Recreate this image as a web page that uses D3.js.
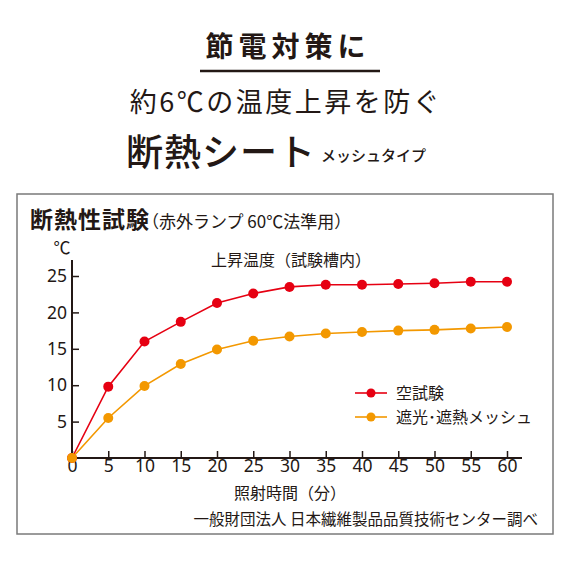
<!DOCTYPE html>
<html>
<head>
<meta charset="utf-8">
<script src="https://cdn.jsdelivr.net/npm/d3@7"></script>
<style>
  html, body { margin: 0; padding: 0; background: #fff; }
  text { font-family: "Noto Sans CJK JP", "Noto Sans", sans-serif; fill: #231815; }
</style>
</head>
<body>
<div id="diagram"></div>
<script>
!(function () {
  'use strict'
  // - - - - - - - - - -
  // data
  let
    minutes = [0, 5, 10, 15, 20, 25, 30, 35, 40, 45, 50, 55, 60],
    blank = [0, 9.8, 16, 18.7, 21.3, 22.6, 23.5, 23.8, 23.8, 23.9, 24.0, 24.2, 24.2],
    mesh = [0, 5.5, 9.9, 12.9, 14.9, 16.1, 16.7, 17.1, 17.3, 17.5, 17.6, 17.8, 18.0],
    seriesNames = ['空試験', '遮光･遮熱メッシュ'],
    xTicks = [0, 5, 10, 15, 20, 25, 30, 35, 40, 45, 50, 55, 60],
    yTicks = [5, 10, 15, 20, 25],

    colors = ['#e60012', '#f39800'],
    ink = '#231815',
    W = 570,
    H = 570,
    svg, xScale, yScale, line, series;

  svg = d3.select('#diagram')
    .append('svg')
    .attr('width', W)
    .attr('height', H);

  // headings
  svg.append('text')
    .attr('x', 288).attr('y', 57)
    .attr('text-anchor', 'middle')
    .style('font-size', '28px').style('font-weight', 700)
    .style('letter-spacing', '5px')
    .text('節電対策に');

  svg.append('line')
    .attr('x1', 200).attr('x2', 380)
    .attr('y1', 71).attr('y2', 71)
    .attr('stroke', ink).attr('stroke-width', 2.5);

  svg.append('text')
    .attr('x', 286).attr('y', 112)
    .attr('text-anchor', 'middle')
    .style('font-size', '27px')
    .style('letter-spacing', '2.5px')
    .text('約6℃の温度上昇を防ぐ');

  svg.append('text')
    .attr('x', 126).attr('y', 166)
    .style('font-size', '37px').style('font-weight', 500)
    .style('letter-spacing', '1px')
    .text('断熱シート');

  svg.append('text')
    .attr('x', 321).attr('y', 161)
    .style('font-size', '15px').style('font-weight', 500)
    .text('メッシュタイプ');

  // frame
  svg.append('rect')
    .attr('x', 17).attr('y', 194)
    .attr('width', 536).attr('height', 340)
    .attr('fill', 'none')
    .attr('stroke', '#7a7a7a')
    .attr('stroke-width', 1.5);

  let title = svg.append('text')
    .attr('x', 30).attr('y', 228);
  title.append('tspan')
    .style('font-size', '23px').style('font-weight', 700)
    .style('letter-spacing', '1px')
    .text('断熱性試験');
  title.append('tspan')
    .attr('dx', -8)
    .style('font-size', '17px')
    .text('（赤外ランプ 60℃法準用）');

  svg.append('text')
    .attr('x', 211).attr('y', 266)
    .style('font-size', '16px')
    .text('上昇温度（試験槽内）');

  // scales
  xScale = d3.scaleLinear()
    .domain([0, 60])
    .range([72, 507]);

  yScale = d3.scaleLinear()
    .domain([0, 25])
    .range([458, 276]);

  // axes
  let gx = svg.append('g')
    .attr('transform', 'translate(0,' + yScale(0) + ')')
    .call(d3.axisBottom(xScale).tickValues(xTicks).tickSizeInner(-7).tickSizeOuter(0).tickPadding(2));
  gx.select('.domain').attr('d', 'M' + xScale(0) + ',0H522');

  let gy = svg.append('g')
    .attr('transform', 'translate(' + xScale(0) + ',0)')
    .call(d3.axisLeft(yScale).tickValues(yTicks).tickSizeInner(-7).tickSizeOuter(0).tickPadding(5));
  gy.select('.domain').attr('d', 'M0,' + yScale(0) + 'V260');

  svg.selectAll('.tick line').attr('stroke', ink).attr('stroke-width', 1.5);
  svg.selectAll('.domain').attr('stroke', ink).attr('stroke-width', 2);
  svg.selectAll('.tick text')
    .attr('fill', ink)
    .style('font-family', '"Noto Sans", sans-serif')
    .style('font-size', '17.5px');

  svg.append('text')
    .attr('x', 62).attr('y', 254)
    .attr('text-anchor', 'middle')
    .style('font-size', '17px')
    .text('℃');

  svg.append('text')
    .attr('x', 290).attr('y', 499)
    .attr('text-anchor', 'middle')
    .style('font-size', '16px')
    .text('照射時間（分）');

  svg.append('text')
    .attr('x', 538).attr('y', 525)
    .attr('text-anchor', 'end')
    .style('font-size', '15.5px')
    .text('一般財団法人 日本繊維製品品質技術センター調べ');

  // lines + points
  series = [blank, mesh];
  line = d3.line()
    .x(function (d, i) { return xScale(minutes[i]); })
    .y(function (d) { return yScale(d); });

  series.forEach(function (vals, k) {
    let g = svg.append('g');
    g.append('path')
      .attr('d', line(vals))
      .attr('fill', 'none')
      .attr('stroke', colors[k])
      .attr('stroke-width', 1.6);
    g.selectAll('circle')
      .data(vals)
      .enter()
      .append('circle')
      .attr('cx', function (d, i) { return xScale(minutes[i]); })
      .attr('cy', function (d) { return yScale(d); })
      .attr('r', 5)
      .attr('fill', colors[k]);
  });

  // legend
  let legend = svg.append('g')
    .selectAll('g')
    .data(seriesNames)
    .enter()
    .append('g')
    .attr('transform', function (d, i) { return 'translate(355,' + (393 + i * 24) + ')'; });
  legend.append('line')
    .attr('x1', 0).attr('x2', 32)
    .attr('stroke', function (d, i) { return colors[i]; })
    .attr('stroke-width', 1.6);
  legend.append('circle')
    .attr('cx', 16).attr('r', 4.5)
    .attr('fill', function (d, i) { return colors[i]; });
  legend.append('text')
    .attr('x', 41).attr('y', 6)
    .style('font-size', '16px')
    .text(function (d) { return d; });

  // - - - - - - - - - -
}())
</script>
</body>
</html>
